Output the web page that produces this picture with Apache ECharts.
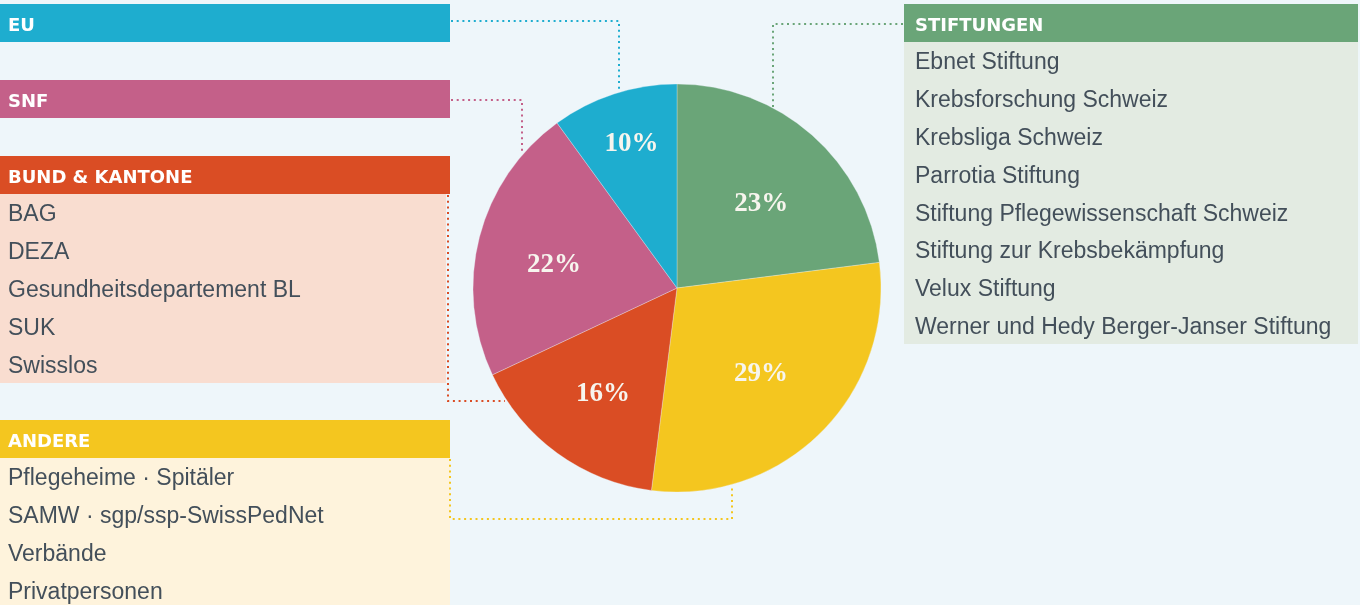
<!DOCTYPE html>
<html>
<head>
<meta charset="utf-8">
<script src="https://cdn.jsdelivr.net/npm/echarts@6/dist/echarts.min.js"></script>
<style>
  html, body { margin: 0; padding: 0; background: #eef6fa; }
  #main { width: 1360px; height: 605px; }
</style>
</head>
<body>
<div id="main"></div>
<script>
// Anteile, im Uhrzeigersinn ab 12 Uhr
const categories = ["Stiftungen", "Andere", "Bund & Kantone", "SNF", "EU"];
const shares = [23, 29, 16, 22, 10];
const colors = ["#6aa578", "#f4c61f", "#da4d24", "#c46089", "#1eadcf"];

// Listen in den Kästen
const stiftungenItems = ["Ebnet Stiftung", "Krebsforschung Schweiz", "Krebsliga Schweiz", "Parrotia Stiftung",
  "Stiftung Pflegewissenschaft Schweiz", "Stiftung zur Krebsbekämpfung", "Velux Stiftung",
  "Werner und Hedy Berger-Janser Stiftung"];
const bundItems = ["BAG", "DEZA", "Gesundheitsdepartement BL", "SUK", "Swisslos"];
const andereItems = ["Pflegeheime · Spitäler", "SAMW · sgp/ssp-SwissPedNet", "Verbände", "Privatpersonen"];

const bg = "#eef6fa";
const textColor = "#434f5a";
const headFont = 'bold 18px "DejaVu Sans"';
const bodyFont = '23px "Liberation Sans"';

// kleine Korrekturen der Prozent-Beschriftungen (dx, dy)
const labelNudge = [[1, 11], [-5, -3], [0, 4], [-1, 8], [2, 2]];

const chart = echarts.init(document.getElementById("main"));

function header(x, y, w, label, color, tx) {
  return [
    { type: "rect", shape: { x: x, y: y, width: w, height: 38 }, style: { fill: color }, silent: true },
    { type: "text", x: x + tx, y: y + 22, style: { text: label, font: headFont, fill: "#fff", verticalAlign: "middle" }, silent: true }
  ];
}

function box(x, y, w, h, fill, items, tx) {
  const els = [{ type: "rect", shape: { x: x, y: y, width: w, height: h }, style: { fill: fill }, silent: true }];
  items.forEach((t, i) => {
    els.push({ type: "text", x: x + tx, y: y + 21 + i * 37.8,
      style: { text: t, font: bodyFont, fill: textColor, verticalAlign: "middle" }, silent: true });
  });
  return els;
}

function dotted(points, color) {
  return { type: "polyline", shape: { points: points },
    style: { stroke: color, lineWidth: 2, lineDash: [2, 3.7], fill: null }, silent: true, z: 10 };
}

const graphics = [].concat(
  header(0, 4, 450, "EU", colors[4], 8),
  header(0, 80, 450, "SNF", colors[3], 8),
  header(0, 156, 450, "BUND & KANTONE", colors[2], 8),
  box(0, 194, 446, 189, "#f9ddd0", bundItems, 8),
  header(0, 420, 450, "ANDERE", colors[1], 8),
  box(0, 458, 450, 150, "#fef3dc", andereItems, 8),
  header(904, 4, 454, "STIFTUNGEN", colors[0], 11),
  box(904, 42, 454, 302, "#e3ebe2", stiftungenItems, 11),
  [
    dotted([[451, 21], [619, 21], [619, 91]], colors[4]),
    dotted([[451, 100], [522, 100], [522, 153]], colors[3]),
    dotted([[903, 24], [773, 24], [773, 107]], colors[0]),
    dotted([[448, 195], [448, 401], [505, 401]], colors[2]),
    dotted([[450, 459], [450, 519], [732, 519], [732, 487]], colors[1])
  ]
);

const pieData = categories.map((c, i) => ({ name: c, value: shares[i], itemStyle: { color: colors[i] } }));

const labelStyle = {
  show: true, position: "inside", formatter: "{c}%",
  color: "#f7f5ee", fontFamily: "Liberation Serif", fontWeight: "bold", fontSize: 27
};

const nudge = (params) => ({ dx: labelNudge[params.dataIndex][0], dy: labelNudge[params.dataIndex][1] });

const option = {
  backgroundColor: bg,
  animation: false,
  graphic: graphics,
  series: [
    {
      type: "pie", center: [677, 288], radius: [0, 204], startAngle: 90,
      data: pieData, label: { show: false }, labelLine: { show: false }, silent: true,
      itemStyle: { borderColor: "rgba(238,246,250,0.6)", borderWidth: 0.5 }
    },
    {
      // Beschriftungen der grossen Segmente
      type: "pie", center: [677, 288], radius: [0, 246], startAngle: 90, silent: true, z: 5,
      data: categories.map((c, i) => ({ name: c, value: shares[i], label: { show: i !== 4 } })),
      itemStyle: { color: "transparent" }, label: labelStyle, labelLine: { show: false },
      labelLayout: nudge
    },
    {
      // Beschriftung EU weiter aussen
      type: "pie", center: [677, 288], radius: [0, 302], startAngle: 90, silent: true, z: 5,
      data: categories.map((c, i) => ({ name: c, value: shares[i], label: { show: i === 4 } })),
      itemStyle: { color: "transparent" }, label: labelStyle, labelLine: { show: false },
      labelLayout: nudge
    }
  ]
};

chart.setOption(option);
</script>
</body>
</html>
